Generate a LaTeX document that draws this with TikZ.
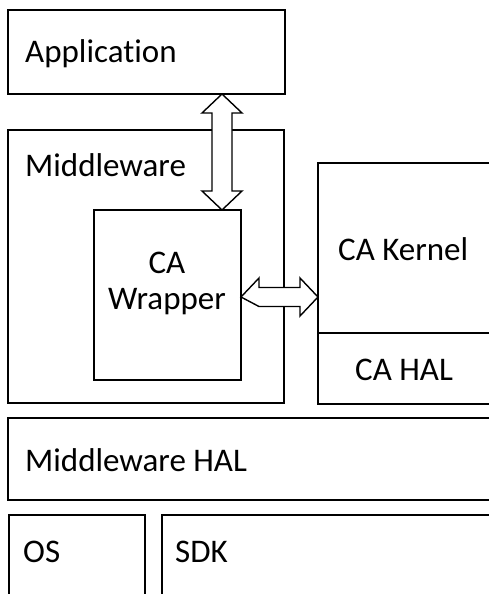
\documentclass[tikz,border=0pt]{standalone}
\usepackage{fontspec}
\setmainfont{Carlito}[Ligatures=NoCommon]
\usetikzlibrary{positioning}
\usetikzlibrary{calc}

\begin{document}
\begin{tikzpicture}[x=1pt,y=-1pt,
box/.style={draw,line width=1.4pt,inner sep=0pt,outer sep=0pt,anchor=north west},
txt/.style={anchor=base west,inner sep=0pt,font=\fontsize{33}{39}\selectfont},
hollow/.style={draw,fill=white,line width=1.4pt,line join=miter}]
\useasboundingbox (0,0) rectangle (489,594);
\clip (0,0) rectangle (489,594);
% layers
\node[box,minimum width=277,minimum height=84] (app) at (8,10) {};
\node[box,minimum width=276,minimum height=273] (mw) at (8,130) {};
\node[box,minimum width=147,minimum height=170] (wrap) at (94,210) {};
\node[box,minimum width=190,minimum height=170] (kernel) at (318,163) {};
\node[box,minimum width=190,minimum height=71] (cahal) at (318,333) {};
\node[box,minimum width=500,minimum height=82] (mwhal) at (8,418) {};
\node[box,minimum width=136,minimum height=90] (os) at (9,515) {};
\node[box,minimum width=340,minimum height=90] (sdk) at (162,515) {};
% labels
\node[txt] (appT) at (25,63) {Application};
\node[txt] (mwT) at (25,176) {Middleware};
\node[txt,anchor=base] (wrapT1) at (167,273) {CA};
\node[txt,anchor=base] (wrapT2) at (167,309) {Wrapper};
\node[txt] (kernelT) at (338,260) {CA Kernel};
\node[txt] (cahalT) at (355,380) {CA HAL};
\node[txt] (mwhalT) at (25,471) {Middleware HAL};
\node[txt] (osT) at (23,562) {OS};
\node[txt] (sdkT) at (175,562) {SDK};
% double arrows
\coordinate (vtop) at ($(app.south east)+(-63,0)$);
\coordinate (vbot) at (vtop |- wrap.north);
\draw[hollow] (vtop) -- ++(20,19) -| ($(vbot)+(10,-19)$) -- ++(10,0) -- (vbot)
  -- ++(-20,-19) -- ++(10,0) |- ($(vtop)+(-20,19)$) -- cycle;
\coordinate (hleft) at ($(wrap.east)+(0,2)$);
\coordinate (hright) at (hleft -| kernel.west);
\draw[hollow] (hleft) -- ++(18,-19) |- ($(hright)+(-18,-9.5)$) -- ++(0,-9.5) -- (hright)
  -- ++(-18,19) -- ++(0,-9.5) -| ($(hleft)+(18,9.5)$) -- cycle;
\end{tikzpicture}
\end{document}
